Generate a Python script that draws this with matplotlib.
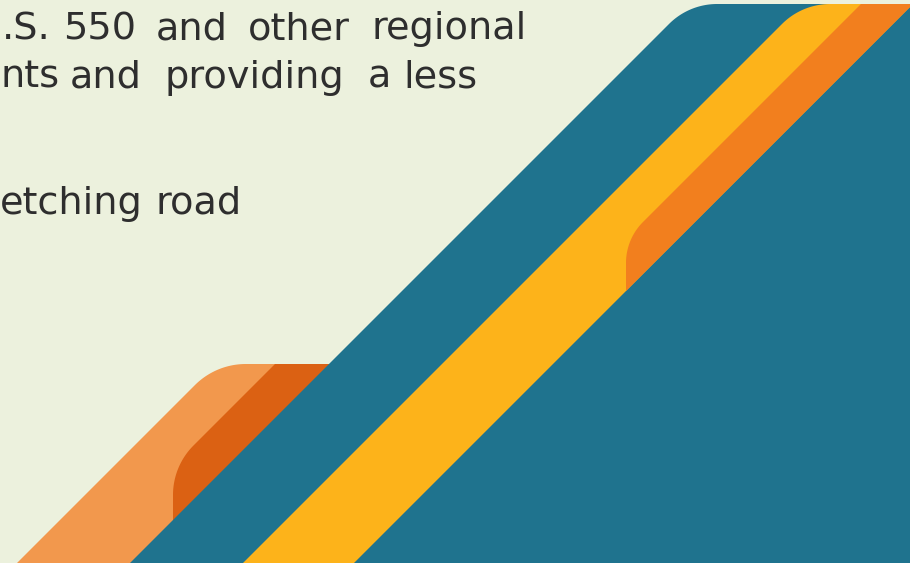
import numpy as np
import matplotlib
matplotlib.use('Agg')
import matplotlib.pyplot as plt
from matplotlib.patches import Polygon

# canvas in pixel units, y pointing down
W, H = 910, 563

bg_color = '#ECF1DD'
text_color = '#2E2E2E'

# visible text fragments: words, word centres (first word: left edge), baselines
line1_words = ['.S.', '550', 'and', 'other', 'regional']
line1_x = [2, 100, 191.5, 298.5, 449]
line2_words = ['nts', 'and', 'providing', 'a', 'less']
line2_x = [0, 106, 254, 379, 440]
line3_words = ['etching', 'road']
line3_x = [0, 199]
baselines = [39, 88, 214]

# decorative shapes: vertices, corner radii, colour, drawing order
light_orange_pts = [(216, 364), (356, 364), (157, 563), (17, 563)]
light_orange_r = [72, 0, 0, 0]
dark_orange_pts = [(275, 364), (356, 364), (173, 547), (173, 466)]
dark_orange_r = [0, 0, 0, 70]
teal_pts = [(689, 4), (920, 4), (920, 570), (123, 570)]
teal_r = [68, 0, 0, 0]
yellow_pts = [(802, 4), (913, 4), (350, 567), (239, 567)]
yellow_r = [68, 0, 0, 0]
orange_pts = [(861, 4), (913, 4), (626, 291), (626, 239)]
orange_r = [0, 0, 0, 58]

shapes = [
    (light_orange_pts, light_orange_r, '#F2984D'),
    (dark_orange_pts, dark_orange_r, '#DB6113'),
    (teal_pts, teal_r, '#1F738E'),
    (yellow_pts, yellow_r, '#FDB31A'),
    (orange_pts, orange_r, '#F27F1E'),
]


def rounded(pts, radii, n=30):
    pts = np.array(pts, dtype=float)
    out = []
    k = len(pts)
    for i in range(k):
        p = pts[i]
        r = radii[i]
        if r == 0:
            out.append(p)
            continue
        a = pts[i - 1]
        b = pts[(i + 1) % k]
        u1 = (a - p) / np.linalg.norm(a - p)
        u2 = (b - p) / np.linalg.norm(b - p)
        th = np.arccos(np.clip(u1 @ u2, -1, 1))
        d = r / np.tan(th / 2)
        bis = (u1 + u2) / np.linalg.norm(u1 + u2)
        c = p + bis * r / np.sin(th / 2)
        t1 = p + u1 * d
        t2 = p + u2 * d
        a1 = np.arctan2(*(t1 - c)[::-1])
        a2 = np.arctan2(*(t2 - c)[::-1])
        da = (a2 - a1 + np.pi) % (2 * np.pi) - np.pi
        for t in np.linspace(0, 1, n):
            ang = a1 + da * t
            out.append(c + r * np.array([np.cos(ang), np.sin(ang)]))
    return np.array(out)


fig = plt.figure(figsize=(W / 100, H / 100), dpi=100)
fig.patch.set_facecolor(bg_color)
ax = fig.add_axes([0, 0, 1, 1])
ax.set_xlim(0, W)
ax.set_ylim(H, 0)
ax.axis('off')

for z, (pts, radii, col) in enumerate(shapes):
    ax.add_patch(Polygon(rounded(pts, radii), closed=True, facecolor=col,
                         edgecolor='none', zorder=2 + z, antialiased=True))

for words, xs, y in zip([line1_words, line2_words, line3_words],
                        [line1_x, line2_x, line3_x], baselines):
    for i, (w, x) in enumerate(zip(words, xs)):
        ax.text(x, y, w, fontsize=27.5, family='DejaVu Sans', color=text_color,
                ha='left' if i == 0 else 'center', va='baseline', zorder=10)

fig.savefig('out.png', dpi=100, facecolor=bg_color)
